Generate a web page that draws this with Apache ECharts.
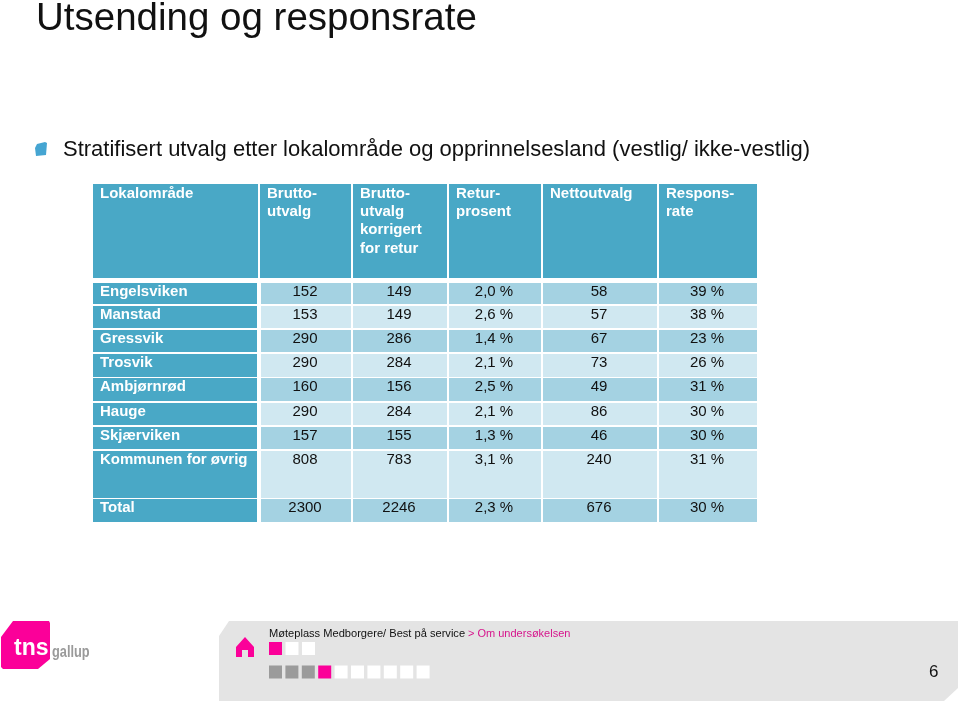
<!DOCTYPE html>
<html>
<head>
<meta charset="utf-8">
<script src="https://cdn.jsdelivr.net/npm/echarts@6/dist/echarts.min.js"></script>
<style>
html,body{margin:0;padding:0;background:#fff;}
#main{width:960px;height:703px;}
</style>
</head>
<body>
<div id="main"></div>
<script>
// table content
const headers = ['Lokalområde', 'Brutto-\nutvalg', 'Brutto-\nutvalg\nkorrigert\nfor retur', 'Retur-\nprosent', 'Nettoutvalg', 'Respons-\nrate']
const areas = ['Engelsviken', 'Manstad', 'Gressvik', 'Trosvik', 'Ambjørnrød', 'Hauge', 'Skjærviken', 'Kommunen for øvrig', 'Total']
const brutto = ['152', '153', '290', '290', '160', '290', '157', '808', '2300']
const korrigert = ['149', '149', '286', '284', '156', '284', '155', '783', '2246']
const returProsent = ['2,0 %', '2,6 %', '1,4 %', '2,1 %', '2,5 %', '2,1 %', '1,3 %', '3,1 %', '2,3 %']
const netto = ['58', '57', '67', '73', '49', '86', '46', '240', '676']
const respons = ['39 %', '38 %', '23 %', '26 %', '31 %', '30 %', '30 %', '31 %', '30 %']
const columns = [areas, brutto, korrigert, returProsent, netto, respons]

const title = 'Utsending og responsrate'
const subtitle = 'Stratifisert utvalg etter lokalområde og opprinnelsesland (vestlig/ ikke-vestlig)'
const crumb = 'Møteplass Medborgere/ Best på service'
const crumbLink = '> Om undersøkelsen'
const pageNo = '6'

// layout of the table grid, in px
const headCols = [[93, 258], [260, 351], [353, 447], [449, 541], [543, 657], [659, 757]]
const bodyCols = [[93, 257], [261, 351], [353, 447], [449, 541], [543, 657], [659, 757]]
const headRow = [184, 278]
const bodyRows = [[283, 304], [306, 328], [330, 352], [354, 377], [378, 401], [403, 425], [427, 449], [451, 498], [499, 522]]

const BLUE = '#49a8c6'
const BAND_A = '#a4d2e2'
const BAND_B = '#d0e8f1'
const PINK = '#fb0099'
const GREY = '#e4e4e4'
const FONT = '"Liberation Sans", Arial, sans-serif'

const cells = []
headers.forEach((h, c) => cells.push([c, -1]))
areas.forEach((a, r) => columns.forEach((col, c) => cells.push([c, r])))

function renderCell(params, api) {
  const c = api.value(0)
  const r = api.value(1)
  if (r < 0) {
    const x = headCols[c]
    return {
      type: 'group',
      children: [
        { type: 'rect', shape: { x: x[0], y: headRow[0], width: x[1] - x[0], height: headRow[1] - headRow[0] }, style: { fill: BLUE } },
        ...headers[c].split('\n').map((line, i) => ({
          type: 'text',
          style: { x: x[0] + 7, y: headRow[0] + 9.5 + i * 18.3, text: line, fill: '#fff', font: 'bold 15px ' + FONT, textAlign: 'left', textVerticalAlign: 'middle' }
        }))
      ]
    }
  }
  const x = bodyCols[c]
  const y = bodyRows[r]
  const fill = c === 0 ? BLUE : (r % 2 === 0 ? BAND_A : BAND_B)
  const isName = c === 0
  return {
    type: 'group',
    children: [
      { type: 'rect', shape: { x: x[0], y: y[0], width: x[1] - x[0], height: y[1] - y[0] }, style: { fill: fill } },
      {
        type: 'text',
        style: {
          x: isName ? x[0] + 7 : (x[0] + x[1]) / 2 - 1,
          y: y[0] + 9,
          text: columns[c][r],
          fill: isName ? '#fff' : '#111',
          font: (isName ? 'bold ' : '') + '15px ' + FONT,
          textAlign: isName ? 'left' : 'center',
          textVerticalAlign: 'middle'
        }
      }
    ]
  }
}

function square(x, y, fill) {
  return { type: 'rect', silent: true, shape: { x: x, y: y, width: 13, height: 13 }, style: { fill: fill } }
}

const navTop = ['p', 'w', 'w']
const navBottom = ['g', 'g', 'g', 'p', 'w', 'w', 'w', 'w', 'w', 'w']
const navColor = { p: PINK, w: '#fff', g: '#9b9b9b' }

const chrome = [
  { type: 'text', silent: true, style: { x: 36, y: 19, text: title, fill: '#111', font: '38.5px ' + FONT, textVerticalAlign: 'middle' } },
  { type: 'polygon', silent: true, shape: { points: [[37, 144], [45, 142], [47, 143], [46, 155], [36, 156], [35, 148]] }, style: { fill: '#45a5d2' } },
  { type: 'text', silent: true, style: { x: 63, y: 150, text: subtitle, fill: '#111', font: '22px ' + FONT, textVerticalAlign: 'middle' } },

  // footer panel
  { type: 'polygon', silent: true, shape: { points: [[229, 621], [958, 621], [958, 688], [944, 701], [219, 701], [219, 636]] }, style: { fill: GREY } },
  { type: 'text', silent: true, style: { x: 269, y: 634, text: crumb, fill: '#111', font: '11.1px ' + FONT, textVerticalAlign: 'middle' } },
  { type: 'text', silent: true, style: { x: 468, y: 634, text: crumbLink, fill: '#d6148c', font: '11px ' + FONT, textVerticalAlign: 'middle' } },
  { type: 'text', silent: true, style: { x: 929, y: 672, text: pageNo, fill: '#111', font: '17px ' + FONT, textVerticalAlign: 'middle' } },

  // house icon
  { type: 'polygon', silent: true, shape: { points: [[245, 637], [254, 647], [254, 657], [248, 657], [248, 650], [242, 650], [242, 657], [236, 657], [236, 647]] }, style: { fill: PINK } },

  // logo
  { type: 'polygon', silent: true, shape: { points: [[13, 621], [49, 621], [50, 623], [50, 659], [38, 669], [3, 669], [1, 667], [1, 637]] }, style: { fill: PINK } },
  { type: 'text', silent: true, style: { x: 14, y: 649, text: 'tns', fill: '#fff', font: 'bold 23px ' + FONT, textVerticalAlign: 'middle' } },
  { type: 'text', silent: true, x: 52, scaleX: 0.8, style: { x: 0, y: 653, text: 'gallup', fill: '#9a9a9a', font: 'bold 16px ' + FONT, textVerticalAlign: 'middle' } }
]
navTop.forEach((k, i) => chrome.push(square(269 + i * 16.5, 642, navColor[k])))
navBottom.forEach((k, i) => chrome.push(square(269 + i * 16.4, 665.5, navColor[k])))

const myChart = echarts.init(document.getElementById('main'), null, { renderer: 'canvas' })
myChart.setOption({
  animation: false,
  backgroundColor: '#fff',
  graphic: { elements: chrome },
  series: [{
    type: 'custom',
    coordinateSystem: 'none',
    silent: true,
    renderItem: renderCell,
    data: cells
  }]
})
</script>
</body>
</html>
